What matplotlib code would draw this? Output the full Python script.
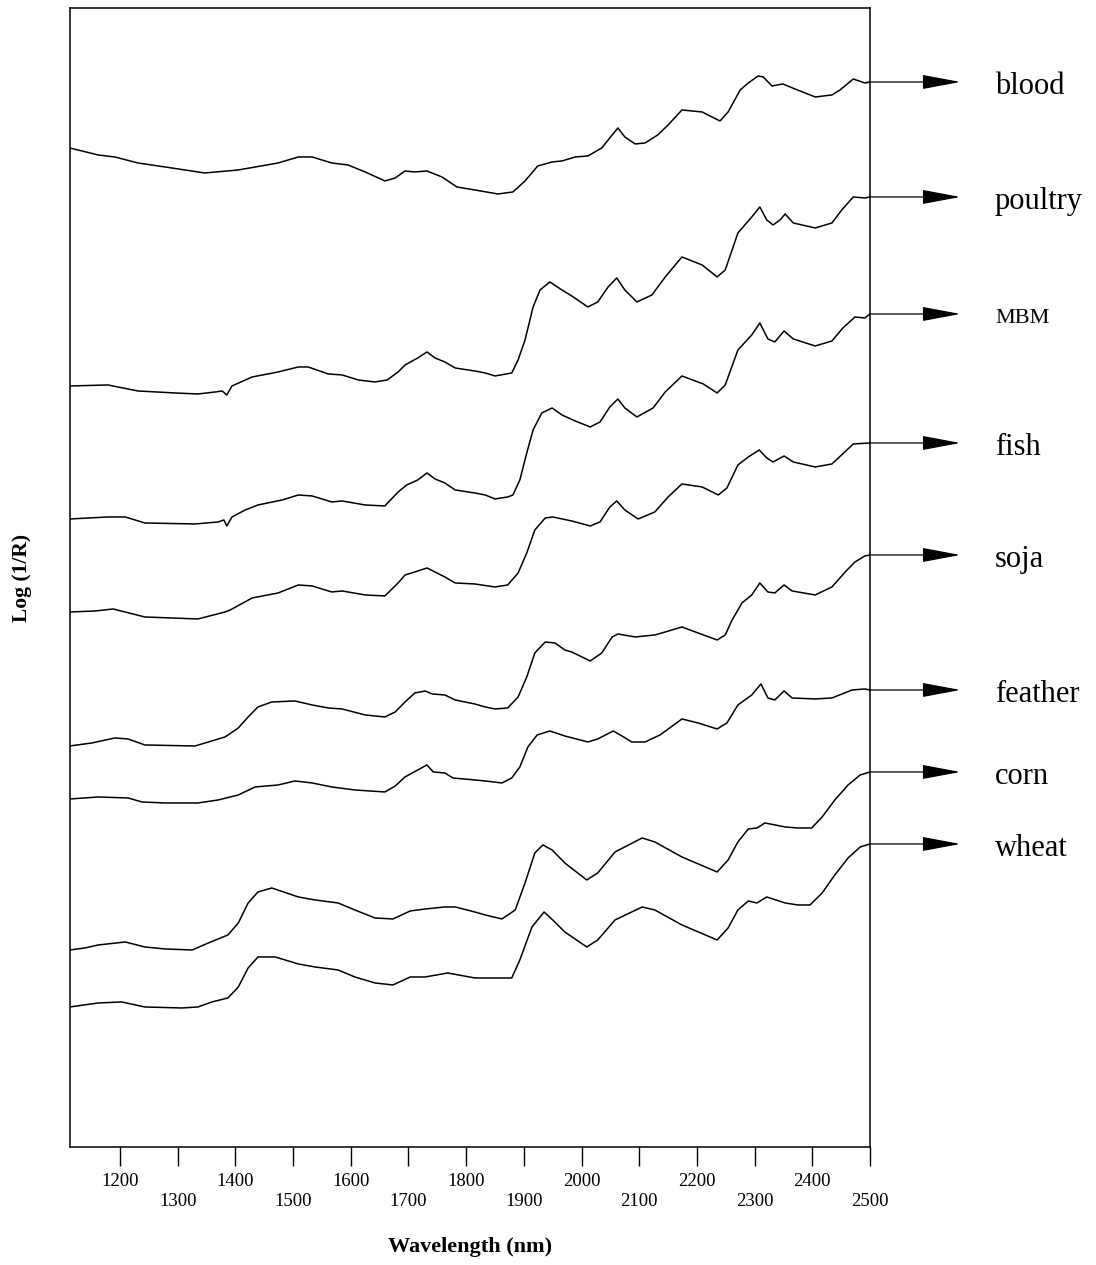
import matplotlib
matplotlib.use("Agg")
import matplotlib.pyplot as plt

# NIR spectra, log(1/R) with vertical offsets (arbitrary units)
blood_wl = [1113, 1162, 1191, 1231, 1278, 1347, 1405, 1474, 1509, 1533, 1567, 1595, 1625, 1659,
            1677, 1694, 1711, 1732, 1758, 1784, 1815, 1855, 1881, 1902, 1924, 1949, 1966, 1989,
            2011, 2035, 2053, 2063, 2075, 2093, 2110, 2132, 2150, 2174, 2209, 2226, 2240, 2254,
            2275, 2289, 2306, 2315, 2330, 2349, 2370, 2405, 2434, 2448, 2471, 2491, 2500]
blood = [.999, .992, .990, .984, .980, .974, .977, .984, .990, .990, .984, .982, .975, .966,
         .969, .976, .975, .976, .970, .960, .957, .953, .955, .966, .981, .985, .986, .990,
         .991, .999, 1.012, 1.019, 1.010, 1.003, 1.004, 1.012, 1.022, 1.037, 1.035, 1.030, 1.026, 1.035,
         1.057, 1.064, 1.071, 1.070, 1.061, 1.063, 1.058, 1.050, 1.052, 1.057, 1.068, 1.064, 1.065]

poultry_wl = [1113, 1179, 1231, 1295, 1335, 1365, 1377, 1385, 1394, 1429, 1474, 1509, 1526, 1561,
              1585, 1613, 1642, 1663, 1682, 1694, 1716, 1732, 1746, 1763, 1781, 1815, 1833, 1850,
              1879, 1890, 1902, 1916, 1928, 1945, 1966, 1983, 2011, 2028, 2046, 2061, 2075, 2096,
              2122, 2145, 2174, 2209, 2235, 2249, 2261, 2271, 2295, 2309, 2321, 2332, 2344, 2353,
              2367, 2405, 2434, 2451, 2471, 2491, 2500]
poultry = [.761, .762, .756, .754, .753, .755, .756, .752, .761, .770, .775, .780, .780, .773,
           .772, .767, .765, .767, .775, .782, .789, .795, .789, .785, .779, .776, .774, .771,
           .774, .787, .807, .840, .857, .865, .857, .851, .840, .845, .860, .869, .857, .845,
           .852, .870, .890, .882, .870, .877, .897, .914, .930, .940, .927, .922, .927, .933,
           .924, .919, .924, .937, .950, .949, .950]

mbm_wl = [1113, 1179, 1209, 1243, 1330, 1370, 1380, 1385, 1394, 1417, 1439, 1481, 1509, 1533,
          1567, 1585, 1625, 1659, 1682, 1697, 1716, 1732, 1746, 1763, 1781, 1815, 1833, 1850,
          1872, 1881, 1893, 1905, 1916, 1931, 1949, 1966, 1989, 2015, 2032, 2049, 2063, 2075,
          2096, 2124, 2145, 2174, 2211, 2235, 2249, 2271, 2295, 2309, 2323, 2335, 2351, 2367,
          2405, 2434, 2453, 2474, 2491, 2500]
mbm = [.628, .630, .630, .624, .623, .625, .627, .621, .630, .637, .642, .647, .652, .651,
       .645, .646, .642, .641, .655, .662, .667, .674, .668, .664, .657, .654, .652, .648,
       .650, .652, .667, .694, .717, .734, .739, .732, .726, .720, .725, .740, .748, .739,
       .730, .739, .755, .771, .763, .754, .762, .797, .812, .824, .808, .805, .816, .808,
       .801, .806, .819, .830, .829, .833]

fish_wl = [1113, 1157, 1188, 1243, 1335, 1382, 1391, 1429, 1474, 1509, 1533, 1567, 1585, 1625,
           1659, 1682, 1694, 1711, 1732, 1763, 1781, 1815, 1850, 1872, 1890, 1905, 1919, 1937,
           1950, 1983, 2015, 2032, 2049, 2061, 2075, 2098, 2127, 2150, 2174, 2209, 2237, 2252,
           2271, 2289, 2308, 2321, 2332, 2351, 2367, 2405, 2434, 2471, 2500]
fish = [.535, .536, .538, .530, .528, .535, .537, .549, .554, .562, .561, .555, .556, .552,
        .551, .564, .572, .575, .579, .570, .564, .563, .560, .562, .574, .594, .617, .629,
        .630, .626, .621, .625, .640, .646, .637, .628, .635, .650, .663, .660, .652, .659,
        .682, .690, .697, .689, .685, .691, .685, .680, .683, .703, .704]

soja_wl = [1113, 1151, 1191, 1214, 1243, 1330, 1359, 1382, 1405, 1422, 1439, 1463, 1503, 1533,
           1561, 1585, 1625, 1659, 1677, 1694, 1711, 1729, 1741, 1763, 1781, 1815, 1833, 1850,
           1872, 1890, 1905, 1919, 1937, 1954, 1971, 1983, 2015, 2035, 2053, 2063, 2093, 2127,
           2145, 2174, 2202, 2235, 2249, 2261, 2278, 2295, 2309, 2323, 2335, 2351, 2365, 2405,
           2434, 2457, 2474, 2491, 2500]
soja = [.401, .404, .409, .408, .402, .401, .406, .410, .419, .430, .440, .445, .446, .442,
        .439, .438, .432, .430, .435, .445, .454, .456, .453, .452, .447, .443, .440, .438,
        .439, .450, .470, .494, .505, .504, .497, .495, .486, .494, .510, .513, .510, .512,
        .515, .520, .514, .507, .512, .527, .544, .552, .564, .555, .554, .562, .556, .552,
        .560, .575, .585, .591, .592]

feather_wl = [1113, 1162, 1214, 1238, 1278, 1335, 1370, 1405, 1434, 1474, 1503, 1533, 1567, 1607,
              1659, 1677, 1694, 1716, 1732, 1743, 1763, 1777, 1815, 1833, 1862, 1879, 1893, 1907,
              1923, 1945, 1971, 2011, 2028, 2055, 2070, 2087, 2110, 2136, 2174, 2202, 2235, 2252,
              2271, 2295, 2311, 2323, 2335, 2351, 2365, 2405, 2434, 2469, 2491, 2500]
feather = [.348, .350, .349, .345, .344, .344, .347, .352, .360, .362, .366, .364, .360, .357,
           .355, .361, .370, .377, .382, .375, .374, .369, .367, .366, .364, .369, .380, .400,
           .412, .416, .411, .405, .408, .416, .411, .405, .405, .412, .428, .424, .418, .424,
           .442, .452, .463, .449, .447, .456, .449, .448, .449, .457, .458, .457]

corn_wl = [1113, 1139, 1162, 1209, 1243, 1278, 1325, 1353, 1387, 1405, 1422, 1439, 1463, 1509,
           1538, 1578, 1607, 1642, 1673, 1703, 1729, 1763, 1781, 1815, 1833, 1862, 1885, 1902,
           1919, 1933, 1949, 1971, 2009, 2028, 2058, 2105, 2127, 2174, 2235, 2254, 2271, 2289,
           2304, 2318, 2353, 2375, 2399, 2417, 2439, 2462, 2483, 2500]
corn = [.197, .199, .202, .205, .200, .198, .197, .204, .212, .224, .244, .255, .259, .250,
        .247, .244, .237, .229, .228, .236, .238, .240, .240, .235, .232, .228, .237, .264,
        .294, .302, .297, .284, .267, .274, .295, .309, .305, .290, .275, .287, .305, .318,
        .319, .324, .320, .319, .319, .330, .347, .362, .372, .375]

wheat_wl = [1113, 1162, 1203, 1243, 1307, 1335, 1359, 1387, 1405, 1422, 1439, 1469, 1509, 1538,
            1578, 1607, 1642, 1673, 1703, 1729, 1768, 1815, 1879, 1893, 1914, 1935, 1950, 1971,
            2009, 2028, 2058, 2105, 2127, 2174, 2235, 2254, 2271, 2289, 2304, 2321, 2353, 2375,
            2396, 2417, 2439, 2462, 2483, 2500]
wheat = [.140, .144, .145, .140, .139, .140, .145, .149, .160, .179, .190, .190, .183, .180,
         .177, .170, .164, .162, .170, .170, .174, .169, .169, .187, .220, .235, .227, .215,
         .200, .207, .227, .240, .237, .222, .207, .219, .237, .246, .244, .250, .244, .242,
         .242, .254, .272, .289, .300, .303]

names = ["blood", "poultry", "MBM", "fish", "soja", "feather", "corn", "wheat"]
spectra = [(blood_wl, blood), (poultry_wl, poultry), (mbm_wl, mbm), (fish_wl, fish),
           (soja_wl, soja), (feather_wl, feather), (corn_wl, corn), (wheat_wl, wheat)]
tick_values = list(range(1200, 2600, 100))

plt.rcParams["font.family"] = ["Liberation Serif", "DejaVu Serif"]

fig = plt.figure(figsize=(10.96, 12.65), dpi=100)
ax = fig.add_axes([0.0639, 0.0933, 0.7299, 0.9004])

for (wl, val), name in zip(spectra, names):
    ax.plot(wl, val, color="black", linewidth=1.1, solid_joinstyle="round")
    # arrow from the end of each spectrum to its label
    ax.annotate("", xy=(wl[-1], val[-1]), xytext=(65, 0), textcoords="offset points",
                arrowprops=dict(arrowstyle="<|-,head_length=2.4,head_width=0.45",
                                mutation_scale=10, color="black", lw=0.9,
                                shrinkA=0, shrinkB=0),
                annotation_clip=False)
    size = 16 if name == "MBM" else 22
    ax.annotate(name, xy=(wl[-1], val[-1]), xytext=(90, -3), textcoords="offset points",
                ha="left", va="center", fontsize=size, annotation_clip=False)

ax.set_xlim(1113.3, 2500)
ax.set_ylim(0, 1.139)

labels = [str(t) if (t // 100) % 2 == 0 else "\n" + str(t) for t in tick_values]
ax.set_xticks(tick_values)
ax.set_xticklabels(labels, fontsize=13.5)
ax.tick_params(axis="x", direction="out", length=14, width=1.0, pad=5)
ax.set_yticks([])

for s in ax.spines.values():
    s.set_linewidth(1.1)

ax.set_xlabel("Wavelength (nm)", fontsize=16, fontweight="bold")
ax.xaxis.set_label_coords(0.5, -0.079)
ax.set_ylabel("Log (1/R)", fontsize=15.5, fontweight="bold")
ax.yaxis.set_label_coords(-0.047, 0.5)

fig.savefig("out.png", dpi=100)
